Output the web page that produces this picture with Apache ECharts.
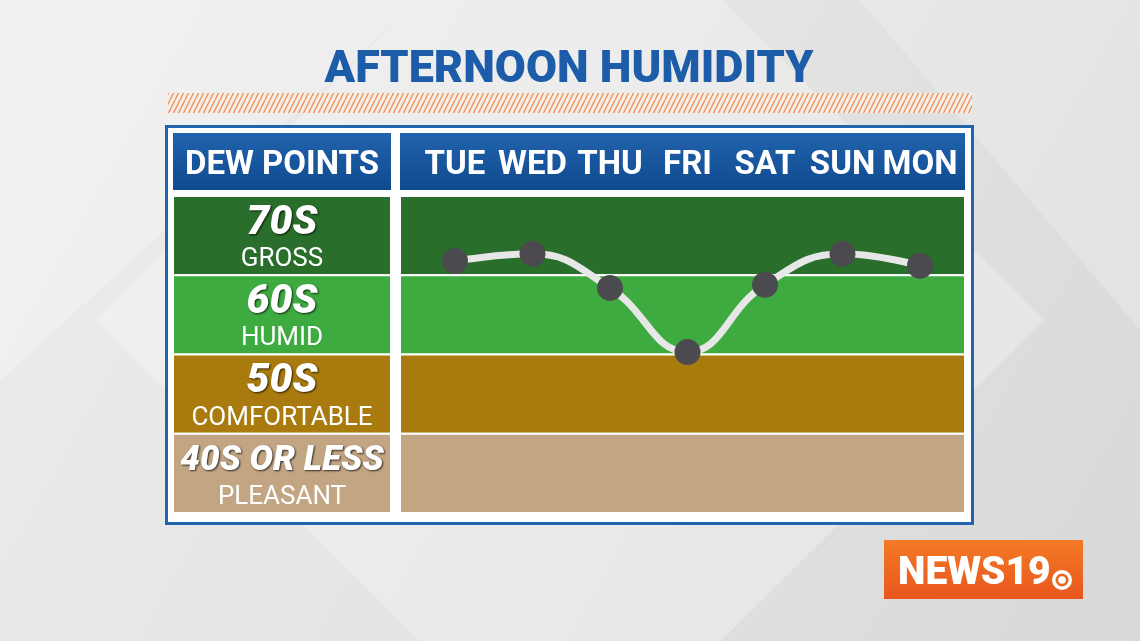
<!DOCTYPE html>
<html>
<head>
<meta charset="utf-8">
<script src="https://cdn.jsdelivr.net/npm/echarts@6/dist/echarts.min.js"></script>
<style>
  html, body { margin: 0; padding: 0; }
  #main { width: 1140px; height: 641px; }
</style>
</head>
<body>
<div id="main"></div>
<script>
// data
const days = ["TUE", "WED", "THU", "FRI", "SAT", "SUN", "MON"];
const dewPoints = [71.8, 72.7, 68.4, 60.3, 68.8, 72.7, 71.2];
const bandLow = [70, 60, 50, 40];
const bandHigh = [80, 70, 60, 50];
const bandNames = ["70S", "60S", "50S", "40S OR LESS"];
const bandWords = ["GROSS", "HUMID", "COMFORTABLE", "PLEASANT"];

const bandColors = ["#2a6e2b", "#3dab40", "#a97a0d", "#c2a583"];
const headBlue = new echarts.graphic.LinearGradient(0, 0, 0, 1, [
  { offset: 0, color: "#2163ae" },
  { offset: 1, color: "#0f4a8e" },
]);

// little diagonal hatch tile for the orange stripe
function hatch() {
  const c = document.createElement("canvas");
  c.width = 5;
  c.height = 20;
  const ctx = c.getContext("2d");
  ctx.strokeStyle = "#ef9058";
  ctx.lineWidth = 1.3;
  for (let x0 = -15; x0 <= 15; x0 += 5) {
    ctx.beginPath();
    ctx.moveTo(x0, 20);
    ctx.lineTo(x0 + 10, 0);
    ctx.stroke();
  }
  return c;
}

function bandAreas(withLabel) {
  return bandLow.map((lo, i) => [
    {
      name: bandNames[i],
      yAxis: bandHigh[i],
      itemStyle: { color: bandColors[i], borderColor: "#fff", borderWidth: 2, opacity: 1 },
      label: withLabel ? {} : { show: false },
    },
    { yAxis: lo },
  ]);
}

const bigText = {
  color: "#fff",
  fontFamily: "Roboto",
  fontStyle: "italic",
  fontWeight: 900,
  fontSize: 41,
  lineHeight: 40,
  textShadowColor: "rgba(0,0,0,0.75)",
  textShadowBlur: 2,
  textShadowOffsetX: 1,
  textShadowOffsetY: 1,
};

const chart = echarts.init(document.getElementById("main"));

chart.setOption({
  animation: false,
  grid: [
    { left: 173, right: 749, top: 196, bottom: 128 },
    { left: 400, right: 175, top: 196, bottom: 128 },
    { left: 455, right: 220, top: 196, bottom: 128 },
  ],
  xAxis: [
    { gridIndex: 0, type: "value", min: 0, max: 1, show: false },
    { gridIndex: 1, type: "value", min: 0, max: 1, show: false },
    {
      gridIndex: 2,
      type: "category",
      data: days,
      position: "top",
      boundaryGap: false,
      z: 10,
      axisLine: { show: false },
      axisTick: { show: false },
      splitLine: { show: false },
      axisLabel: {
        interval: 0,
        margin: 30,
        verticalAlign: "middle",
        color: "#fff",
        fontFamily: "Roboto",
        fontWeight: "bold",
        fontSize: 33,
      },
    },
  ],
  yAxis: [0, 1, 2].map((g) => ({
    gridIndex: g,
    type: "value",
    min: 40,
    max: 80,
    show: false,
  })),
  graphic: [
    {
      type: "rect",
      z: -20,
      shape: { x: 0, y: 0, width: 1140, height: 641 },
      style: {
        fill: new echarts.graphic.LinearGradient(0, 0, 1, 1, [
          { offset: 0, color: "#ededed" },
          { offset: 0.5, color: "#e4e4e4" },
          { offset: 1, color: "#d8d8d8" },
        ]),
      },
    },
    {
      type: "polygon",
      z: -19,
      shape: { points: [[570, -150], [1045, 320], [570, 790], [95, 320]] },
      style: { fill: "rgba(255,255,255,0.28)" },
    },
    {
      type: "polygon",
      z: -19,
      shape: { points: [[0, 0], [420, 0], [0, 380]] },
      style: { fill: "rgba(255,255,255,0.25)" },
    },
    {
      type: "polygon",
      z: -19,
      shape: { points: [[1140, 0], [1140, 330], [860, 0]] },
      style: { fill: "rgba(255,255,255,0.22)" },
    },
    {
      type: "text",
      z: -10,
      x: 569,
      y: 71,
      style: {
        text: "AFTERNOON HUMIDITY",
        fill: "#1c5ca8",
        font: "900 45px Roboto",
        align: "center",
        verticalAlign: "middle",
      },
    },
    {
      type: "rect",
      z: -12,
      shape: { x: 168, y: 93, width: 804, height: 20 },
      style: { fill: "#f5eee9" },
    },
    {
      type: "rect",
      z: -11,
      shape: { x: 168, y: 93, width: 804, height: 20 },
      style: { fill: { image: hatch(), repeat: "repeat" } },
    },
    {
      type: "rect",
      z: -12,
      shape: { x: 166.5, y: 126.5, width: 806, height: 397 },
      style: { fill: "#fff", stroke: "#2264ae", lineWidth: 3 },
    },
    {
      type: "rect",
      z: -11,
      shape: { x: 173, y: 133, width: 218, height: 57 },
      style: { fill: headBlue },
    },
    {
      type: "rect",
      z: -11,
      shape: { x: 400, y: 133, width: 565, height: 57 },
      style: { fill: headBlue },
    },
    {
      type: "text",
      z: -10,
      x: 282,
      y: 166,
      style: {
        text: "DEW POINTS",
        fill: "#fff",
        font: "bold 33px Roboto",
        align: "center",
        verticalAlign: "middle",
      },
    },
    // NEWS19 badge
    {
      type: "rect",
      z: -12,
      shape: { x: 884, y: 540, width: 199, height: 59 },
      style: {
        fill: new echarts.graphic.LinearGradient(0, 0, 0, 1, [
          { offset: 0, color: "#f47a25" },
          { offset: 1, color: "#e8561d" },
        ]),
      },
    },
    {
      type: "text",
      z: -11,
      x: 898,
      y: 574,
      style: {
        text: "NEWS19",
        fill: "#fff",
        font: "900 39px Roboto",
        verticalAlign: "middle",
      },
    },
    {
      type: "circle",
      z: -11,
      shape: { cx: 1062, cy: 580, r: 10 },
      style: { fill: "#fff" },
    },
    {
      type: "circle",
      z: -10,
      shape: { cx: 1062, cy: 580, r: 6.5 },
      style: { fill: "#ec661f" },
    },
    {
      type: "circle",
      z: -9,
      shape: { cx: 1062, cy: 580, r: 3.8 },
      style: { fill: "#fff" },
    },
  ],
  series: [
    {
      type: "line",
      xAxisIndex: 0,
      yAxisIndex: 0,
      data: [],
      silent: true,
      markArea: {
        silent: true,
        label: {
          show: true,
          position: "inside",
          offset: [0, 4],
          formatter: (p) =>
            (p.name.length > 4 ? "{c|" : "{a|") + p.name + "}\n{b|" +
            bandWords[bandNames.indexOf(p.name)] + "}",
          rich: {
            a: bigText,
            c: Object.assign({}, bigText, { fontSize: 35 }),
            b: {
              color: "#fff",
              fontFamily: "Roboto",
              fontSize: 26,
              lineHeight: 32,
            },
          },
        },
        data: bandAreas(true),
      },
    },
    {
      type: "line",
      xAxisIndex: 1,
      yAxisIndex: 1,
      data: [],
      silent: true,
      markArea: { silent: true, data: bandAreas(false) },
    },
    {
      type: "line",
      xAxisIndex: 2,
      yAxisIndex: 2,
      z: 5,
      data: dewPoints,
      smooth: 0.45,
      symbol: "circle",
      symbolSize: 26,
      lineStyle: { color: "#e7e7e7", width: 7 },
      itemStyle: { color: "#4a4a4f" },
    },
  ],
});
</script>
</body>
</html>
